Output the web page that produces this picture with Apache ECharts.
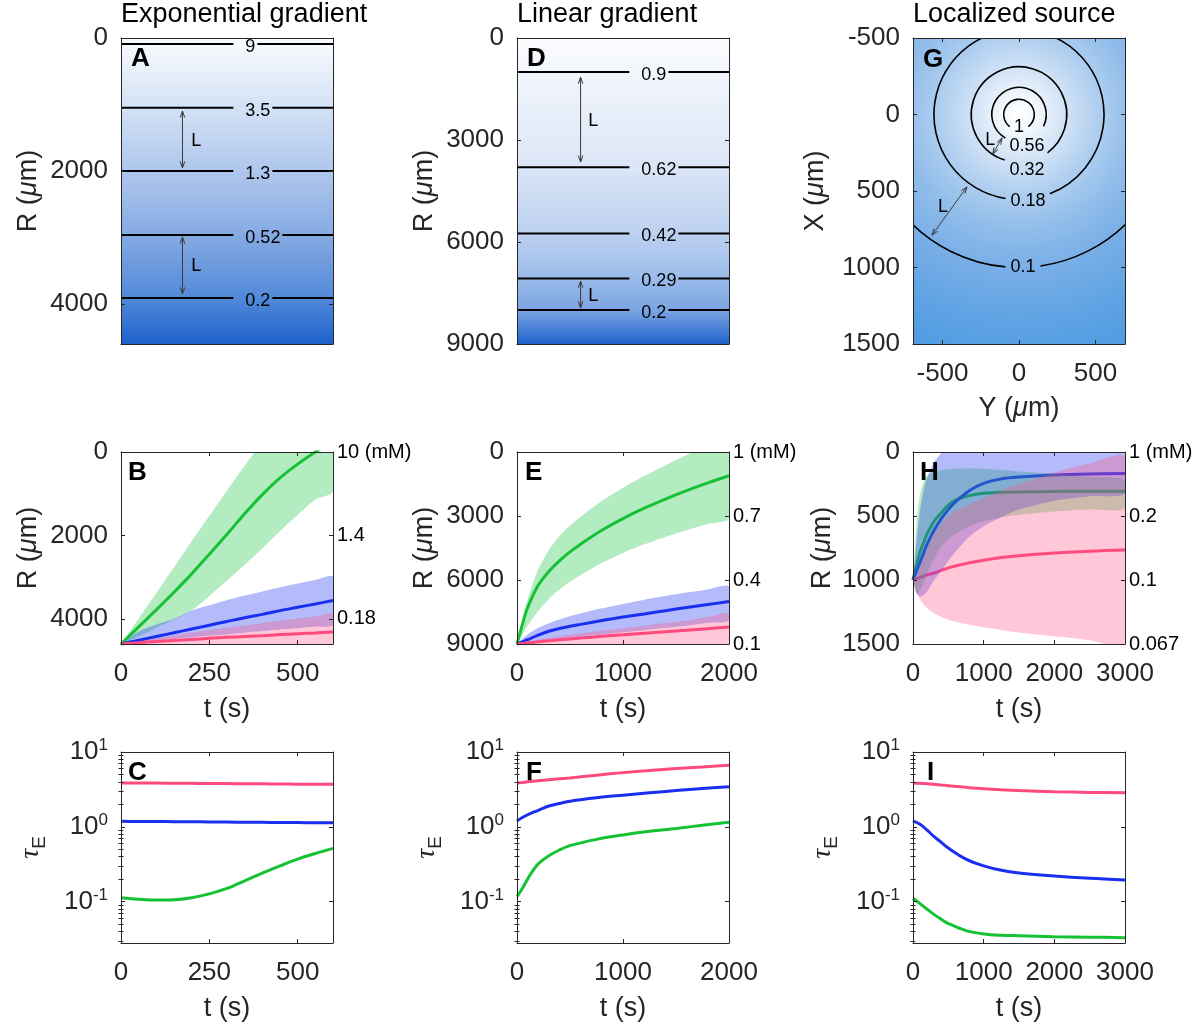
<!DOCTYPE html>
<html>
<head>
<meta charset="utf-8">
<title>Gradient sensing panels</title>
<script src="https://cdn.jsdelivr.net/npm/echarts@6/dist/echarts.min.js"></script>
<style>
  html, body { margin: 0; padding: 0; background: #fff; }
  #main { width: 1204px; height: 1029px; }
</style>
</head>
<body>
<div id="main"></div>
<script>
// ---------- data ----------
// A: exponential gradient, contour levels (mM) and depth R (um)
var expLevels = [9, 3.5, 1.3, 0.52, 0.2];
var expLevelR = [90, 1050, 2000, 2960, 3910];
var expArrows = [[0.29, 1097, 0.29, 1954], [0.29, 2991, 0.29, 3848]];
var expArrowLabels = [[0.355, 1548], [0.355, 3427]];

// D: linear gradient
var linLevels = [0.9, 0.62, 0.42, 0.29, 0.2];
var linLevelR = [1000, 3800, 5750, 7070, 8000];
var linArrows = [[0.3, 1150, 0.3, 3650], [0.3, 7150, 0.3, 7940]];
var linArrowLabels = [[0.36, 2440], [0.36, 7590]];

// G: localized source, contour radius (um) around the source
var srcLevels = [1, 0.56, 0.32, 0.18, 0.1];
var srcRadius = [100, 178, 312, 556, 1000];
var srcArrows = [[-111, 153, -172, 259], [-340, 473, -569, 789]]; // [Y1, X1, Y2, X2]
var srcArrowLabels = [[-188, 168], [-497, 608]];

// tick values / labels
var tickR_A = [0, 2000, 4000];
var tickR_D = [0, 3000, 6000, 9000];
var tickR_H = [0, 500, 1000, 1500];
var tickX_G = [-500, 0, 500, 1000, 1500];
var tickY_G = [-500, 0, 500];
var tickT_B = [0, 250, 500];
var tickT_E = [0, 1000, 2000];
var tickT_H = [0, 1000, 2000, 3000];
var concB = ['10 (mM)', '1.4', '0.18'];
var concE = ['1 (mM)', '0.7', '0.4', '0.1'];
var concH = ['1 (mM)', '0.2', '0.1', '0.067'];
var tauTicks = [0.1, 1, 10];
var tauMinor = [0.03, 0.04, 0.05, 0.06, 0.07, 0.08, 0.09, 0.2, 0.3, 0.4, 0.5, 0.6, 0.7, 0.8, 0.9, 2, 3, 4, 5, 6, 7, 8, 9];

// B: R(t) in exponential gradient
var tB = [0, 50, 100, 150, 200, 250, 300, 350, 400, 450, 500, 550, 600];
var greenB = [4600, 4190, 3780, 3360, 2920, 2450, 1970, 1480, 1020, 620, 290, 0, -250];
var greenBLo = [4600, 3990, 3380, 2760, 2140, 1530, 920, 330, -250, -800, -1350, -1900, -2400];
var greenBHi = [4600, 4420, 4210, 4020, 3800, 3450, 3080, 2700, 2310, 1900, 1510, 1140, 940];
var blueB = [4600, 4510, 4420, 4330, 4240, 4150, 4060, 3970, 3890, 3800, 3720, 3640, 3560];
var blueBLo = [4600, 4300, 4130, 4000, 3800, 3670, 3550, 3440, 3340, 3240, 3150, 3065, 2985];
var blueBHi = [4600, 4560, 4520, 4480, 4440, 4400, 4370, 4330, 4290, 4250, 4220, 4180, 4140];
var pinkB = [4600, 4570, 4540, 4515, 4490, 4465, 4440, 4420, 4400, 4375, 4355, 4335, 4314];
var pinkBLo = [4600, 4530, 4460, 4395, 4330, 4270, 4210, 4155, 4100, 4045, 3990, 3940, 3885];
var pinkBHi = [4600, 4610, 4620, 4630, 4640, 4650, 4660, 4670, 4680, 4690, 4700, 4710, 4720];

// E: R(t) in linear gradient
var tE = [0, 50, 100, 200, 300, 400, 500, 600, 800, 1000, 1200, 1400, 1600, 1800, 2000];
var greenE = [9000, 8100, 7300, 6250, 5600, 5100, 4680, 4320, 3670, 3120, 2635, 2205, 1813, 1450, 1113];
var greenELo = [9000, 7800, 6900, 5500, 4600, 3950, 3450, 3030, 2300, 1680, 1130, 620, 140, -320, -760];
var greenEHi = [9000, 8580, 8150, 7450, 6900, 6450, 6080, 5760, 5200, 4730, 4330, 3980, 3670, 3380, 3110];
var blueE = [9000, 8900, 8800, 8580, 8400, 8270, 8170, 8080, 7900, 7730, 7590, 7440, 7290, 7150, 7010];
var blueELo = [9000, 8750, 8550, 8250, 8030, 7850, 7700, 7570, 7330, 7120, 6920, 6750, 6590, 6440, 6306];
var blueEHi = [9000, 8975, 8950, 8890, 8830, 8770, 8710, 8660, 8560, 8450, 8350, 8240, 8140, 8000, 7870];
var pinkE = [9000, 8975, 8950, 8900, 8850, 8800, 8760, 8720, 8640, 8570, 8500, 8430, 8360, 8280, 8205];
var pinkELo = [9000, 8950, 8900, 8800, 8720, 8640, 8570, 8500, 8380, 8260, 8140, 8020, 7900, 7750, 7600];
var pinkEHi = [9000, 9015, 9030, 9060, 9090, 9120, 9150, 9180, 9240, 9300, 9360, 9420, 9480, 9540, 9600];

// H: R(t) around a localized source
var tH = [0, 50, 100, 150, 200, 300, 400, 500, 600, 800, 1000, 1250, 1500, 2000, 2500, 3000];
var greenH = [1000, 880, 780, 710, 640, 540, 475, 415, 375, 340, 322, 315, 312, 308, 307, 306];
var greenHLo = [1000, 550, 330, 230, 185, 155, 143, 135, 130, 126, 130, 140, 152, 170, 195, 220];
var greenHHi = [1000, 1110, 1080, 1020, 950, 830, 740, 680, 640, 580, 540, 510, 490, 465, 450, 441];
var blueH = [1000, 930, 860, 790, 720, 610, 520, 450, 390, 300, 245, 210, 195, 180, 172, 168];
var blueHLo = [1000, 700, 450, 300, 200, 80, 10, -40, -70, -100, -110, -115, -120, -120, -120, -120];
var blueHHi = [1000, 1100, 1130, 1120, 1090, 1000, 930, 850, 780, 660, 580, 510, 450, 380, 345, 320];
var pinkH = [1000, 990, 980, 970, 960, 945, 925, 905, 890, 865, 845, 825, 810, 790, 775, 766];
var pinkHLo = [1000, 960, 900, 830, 760, 640, 560, 500, 460, 410, 360, 300, 250, 160, 90, 40];
var pinkHHi = [1000, 1100, 1150, 1190, 1220, 1260, 1290, 1310, 1325, 1350, 1370, 1390, 1410, 1440, 1470, 1510];

// C, F, I: tau_E(t)
var tC = [0, 50, 100, 150, 200, 250, 300, 350, 400, 450, 500, 550, 600];
var greenC = [0.113, 0.108, 0.105, 0.106, 0.113, 0.127, 0.15, 0.19, 0.24, 0.3, 0.37, 0.44, 0.515];
var blueC = [1.19, 1.18, 1.18, 1.17, 1.17, 1.16, 1.16, 1.15, 1.15, 1.14, 1.14, 1.13, 1.13];
var pinkC = [3.86, 3.85, 3.84, 3.82, 3.81, 3.79, 3.78, 3.76, 3.75, 3.73, 3.72, 3.71, 3.7];

var tF = [0, 50, 100, 150, 200, 300, 400, 500, 750, 1000, 1250, 1500, 1750, 2000];
var greenF = [0.117, 0.15, 0.2, 0.26, 0.32, 0.41, 0.49, 0.56, 0.68, 0.78, 0.87, 0.95, 1.05, 1.15];
var blueF = [1.2, 1.33, 1.45, 1.56, 1.66, 1.9, 2.05, 2.2, 2.45, 2.65, 2.85, 3.05, 3.25, 3.42];
var pinkF = [3.86, 3.92, 3.99, 4.06, 4.13, 4.26, 4.38, 4.5, 4.9, 5.3, 5.65, 6.0, 6.3, 6.65];

var tI = [0, 100, 200, 300, 400, 500, 750, 1000, 1250, 1500, 2000, 2500, 3000];
var greenI = [0.111, 0.094, 0.079, 0.067, 0.058, 0.051, 0.041, 0.037, 0.0355, 0.035, 0.034, 0.0335, 0.033];
var blueI = [1.2, 1.08, 0.9, 0.74, 0.62, 0.52, 0.37, 0.3, 0.262, 0.242, 0.22, 0.205, 0.195];
var pinkI = [3.86, 3.82, 3.76, 3.7, 3.62, 3.55, 3.37, 3.22, 3.12, 3.05, 2.95, 2.88, 2.85];

var titles = ['Exponential gradient', 'Linear gradient', 'Localized source'];
var panelLetters = ['A', 'B', 'C', 'D', 'E', 'F', 'G', 'H', 'I'];

// ---------- style ----------
var INK = '#262626';
var FONT = '"Liberation Sans", Arial, Helvetica, sans-serif';
var GREEN = '#14c234', BLUE = '#1a2ef0', PINK = '#ff4a7e';
var GREEN_BAND = 'rgba(40,200,80,0.35)', BLUE_BAND = 'rgba(40,60,240,0.35)', PINK_BAND = 'rgba(255,80,130,0.32)';

var measureCtx = document.createElement('canvas').getContext('2d');
function textWidth(s, size) {
  measureCtx.font = size + 'px ' + FONT;
  return measureCtx.measureText(s).width;
}

var grid = [], xAxis = [], yAxis = [], series = [];

function fmtNum(v) { return String(v); }
function fmtPow(v) { return '10{sup|' + Math.round(Math.log10(v)) + '}'; }

var nameStyle = {
  fontSize: 27, color: INK, fontFamily: FONT,
  rich: { mu: { fontSize: 27, fontStyle: 'italic', color: INK, fontFamily: FONT } }
};
var tauStyle = {
  fontSize: 28, color: INK, fontFamily: FONT, lineHeight: 36,
  rich: {
    t: { fontSize: 28, fontStyle: 'italic', fontFamily: '"Liberation Serif", serif', color: INK, lineHeight: 36 },
    s: { fontSize: 19, fontFamily: FONT, color: INK, lineHeight: 17, verticalAlign: 'bottom' }
  }
};

function tickOpt(values, len) {
  if (!values) return { show: false };
  return { show: true, inside: true, length: len || 4, customValues: values, lineStyle: { color: INK, width: 1 } };
}
function lineOpt(show) {
  return { show: show, onZero: false, lineStyle: { color: INK, width: 1 } };
}

function addPanel(p) {
  var gi = grid.length;
  grid.push({ left: p.left, top: p.top, width: 212, height: p.height });
  var xi = xAxis.length;
  xAxis.push({
    gridIndex: gi, type: 'value', position: 'bottom', min: p.x[0], max: p.x[1], z: 10,
    name: p.xName || '', nameLocation: 'middle', nameGap: p.xNameGap || 52, nameTextStyle: nameStyle,
    axisLine: lineOpt(true), axisTick: tickOpt(p.xTicks),
    axisLabel: p.xTicks ? { customValues: p.xTicks, formatter: fmtNum, margin: 17, fontSize: 26, color: INK, fontFamily: FONT } : { show: false },
    splitLine: { show: false }
  });
  xAxis.push({
    gridIndex: gi, type: 'value', position: 'top', min: p.x[0], max: p.x[1], z: 10,
    axisLine: lineOpt(true), axisTick: tickOpt(p.xTicks), axisLabel: { show: false }, splitLine: { show: false }
  });
  var yi = yAxis.length;
  var yType = p.log ? { type: 'log', logBase: 10 } : { type: 'value', inverse: true };
  yAxis.push(Object.assign({
    gridIndex: gi, position: 'left', min: p.y[0], max: p.y[1], z: 10,
    name: p.yName, nameLocation: 'middle', nameRotate: 90, nameGap: p.yNameGap,
    nameTextStyle: p.log ? tauStyle : nameStyle,
    axisLine: lineOpt(true), axisTick: tickOpt(p.yTicks),
    axisLabel: {
      customValues: p.yTicks, formatter: p.log ? fmtPow : fmtNum, margin: 13,
      fontSize: 26, color: INK, fontFamily: FONT, lineHeight: 30,
      rich: { sup: { fontSize: 17, lineHeight: 17, verticalAlign: 'top', color: INK, fontFamily: FONT } }
    },
    splitLine: { show: false }
  }, yType));
  yAxis.push(Object.assign({
    gridIndex: gi, position: 'right', min: p.y[0], max: p.y[1], z: 10,
    axisLine: lineOpt(true), axisTick: tickOpt(p.yTicks),
    axisLabel: p.conc ? {
      customValues: p.yTicks, margin: 4, fontSize: 20, color: '#000', fontFamily: FONT,
      formatter: function (v) { return p.conc[p.yTicks.indexOf(v)]; }
    } : { show: false },
    splitLine: { show: false }
  }, yType));
  if (p.log) {
    ['left', 'right'].forEach(function (pos) {
      yAxis.push({
        gridIndex: gi, type: 'log', logBase: 10, position: pos, min: p.y[0], max: p.y[1], z: 10,
        axisLine: { show: false }, axisTick: tickOpt(tauMinor, 2.5), axisLabel: { show: false }, splitLine: { show: false }
      });
    });
  }
  return { xi: xi, yi: yi };
}

function lineSeries(ax, t, v, color, z) {
  return {
    type: 'line', xAxisIndex: ax.xi, yAxisIndex: ax.yi, z: z || 3, silent: true,
    data: t.map(function (x, i) { return [x, v[i]]; }),
    showSymbol: false, symbol: 'none', smooth: 0.35,
    lineStyle: { color: color, width: 3 }
  };
}

function bandSeries(ax, t, lo, hi, fill, z) {
  return {
    type: 'custom', xAxisIndex: ax.xi, yAxisIndex: ax.yi, clip: true, silent: true, z: z || 2,
    data: t.map(function (x, i) { return [x, lo[i], hi[i]]; }),
    renderItem: function (params, api) {
      if (params.dataIndex !== 0) return null;
      var pts = [], i;
      for (i = 0; i < t.length; i++) pts.push(api.coord([t[i], lo[i]]));
      for (i = t.length - 1; i >= 0; i--) pts.push(api.coord([t[i], hi[i]]));
      return { type: 'polygon', shape: { points: pts, smooth: 0.25 }, style: { fill: fill } };
    }
  };
}

function backgroundSeries(ax, fillFn) {
  return {
    type: 'custom', xAxisIndex: ax.xi, yAxisIndex: ax.yi, z: 1, silent: true, data: [[0, 0]],
    renderItem: function (params, api) {
      var cs = params.coordSys;
      return { type: 'rect', shape: { x: cs.x, y: cs.y, width: cs.width, height: cs.height }, style: { fill: fillFn(api) } };
    }
  };
}

function levelSeries(ax, levels, levelR) {
  return {
    type: 'custom', xAxisIndex: ax.xi, yAxisIndex: ax.yi, z: 4, silent: true,
    data: levelR.map(function (r) { return [0, r]; }),
    renderItem: function (params, api) {
      var r = api.value(1);
      var p0 = api.coord([0, r]), p1 = api.coord([1, r]);
      var label = String(levels[params.dataIndex]);
      var gx = p0[0] + 0.53 * (p1[0] - p0[0]);
      var w = textWidth(label, 18);
      var ls = { stroke: '#000', lineWidth: 2 };
      return {
        type: 'group', children: [
          { type: 'line', shape: { x1: p0[0], y1: p0[1], x2: gx, y2: p0[1] }, style: ls },
          { type: 'line', shape: { x1: gx + 12 + w + 2, y1: p0[1], x2: p1[0], y2: p0[1] }, style: ls },
          { type: 'text', style: { text: label, x: gx + 12, y: p0[1] + 3, font: '18px ' + FONT, fill: '#000', align: 'left', verticalAlign: 'middle' } }
        ]
      };
    }
  };
}

function arrowParts(p, q, color) {
  var dx = q[0] - p[0], dy = q[1] - p[1], len = Math.sqrt(dx * dx + dy * dy);
  var ux = dx / len, uy = dy / len;
  function head(tip, sx, sy) {
    var a = 0.33, L = 7, c = Math.cos(a), s = Math.sin(a);
    return {
      type: 'polyline',
      shape: { points: [[tip[0] + L * (sx * c - sy * s), tip[1] + L * (sx * s + sy * c)], tip,
                        [tip[0] + L * (sx * c + sy * s), tip[1] + L * (-sx * s + sy * c)]] },
      style: { stroke: color, lineWidth: 1, fill: null }
    };
  }
  return [
    { type: 'line', shape: { x1: p[0], y1: p[1], x2: q[0], y2: q[1] }, style: { stroke: color, lineWidth: 1 } },
    head(p, ux, uy), head(q, -ux, -uy)
  ];
}

function arrowSeries(ax, arrows, labels) {
  return {
    type: 'custom', xAxisIndex: ax.xi, yAxisIndex: ax.yi, z: 5, silent: true,
    data: arrows,
    renderItem: function (params, api) {
      var a = arrows[params.dataIndex];
      var p = api.coord([a[0], a[1]]), q = api.coord([a[2], a[3]]);
      var lab = api.coord(labels[params.dataIndex]);
      return {
        type: 'group',
        children: arrowParts(p, q, '#3a3a3a').concat([{
          type: 'text', style: { text: 'L', x: lab[0], y: lab[1], font: '18px ' + FONT, fill: '#000', align: 'center', verticalAlign: 'middle' }
        }])
      };
    }
  };
}

// ---------- panels ----------
var rName = 'R ({mu|μ}m)';
var pA = addPanel({ left: 121, top: 38, height: 306, x: [0, 1], y: [0, 4600], yTicks: tickR_A, yName: rName, yNameGap: 79 });
var pB = addPanel({ left: 121, top: 452, height: 192, x: [0, 600], xTicks: tickT_B, xName: 't (s)', y: [0, 4600], yTicks: tickR_A, yName: rName, yNameGap: 79, conc: concB });
var pC = addPanel({ left: 121, top: 752, height: 191, x: [0, 600], xTicks: tickT_B, xName: 't (s)', y: [0.028, 10], log: true, yTicks: tauTicks, yName: '{t|τ}{s|E}', yNameGap: 72 });
var pD = addPanel({ left: 517, top: 38, height: 306, x: [0, 1], y: [0, 9000], yTicks: tickR_D, yName: rName, yNameGap: 79 });
var pE = addPanel({ left: 517, top: 452, height: 192, x: [0, 2000], xTicks: tickT_E, xName: 't (s)', y: [0, 9000], yTicks: tickR_D, yName: rName, yNameGap: 79, conc: concE });
var pF = addPanel({ left: 517, top: 752, height: 191, x: [0, 2000], xTicks: tickT_E, xName: 't (s)', y: [0.028, 10], log: true, yTicks: tauTicks, yName: '{t|τ}{s|E}', yNameGap: 72 });
var pG = addPanel({ left: 913, top: 38, height: 306, x: [-693, 693], xTicks: tickY_G, xName: 'Y ({mu|μ}m)', xNameGap: 51, y: [-500, 1500], yTicks: tickX_G, yName: 'X ({mu|μ}m)', yNameGap: 84 });
var pH = addPanel({ left: 913, top: 452, height: 192, x: [0, 3000], xTicks: tickT_H, xName: 't (s)', y: [0, 1500], yTicks: tickR_H, yName: rName, yNameGap: 77, conc: concH });
var pI = addPanel({ left: 913, top: 752, height: 191, x: [0, 3000], xTicks: tickT_H, xName: 't (s)', y: [0.028, 10], log: true, yTicks: tauTicks, yName: '{t|τ}{s|E}', yNameGap: 72 });

// A
series.push(backgroundSeries(pA, function () {
  return new echarts.graphic.LinearGradient(0, 0, 0, 1, [
    { offset: 0, color: '#f9fbfe' }, { offset: 0.1, color: '#e9f0fa' }, { offset: 0.23, color: '#d2e1f5' },
    { offset: 0.44, color: '#aec6ed' }, { offset: 0.64, color: '#86abe3' }, { offset: 0.85, color: '#5289d9' },
    { offset: 1, color: '#1d62cc' }]);
}));
series.push(levelSeries(pA, expLevels, expLevelR));
series.push(arrowSeries(pA, expArrows, expArrowLabels));

// D
series.push(backgroundSeries(pD, function () {
  return new echarts.graphic.LinearGradient(0, 0, 0, 1, [
    { offset: 0, color: '#fbfcfe' }, { offset: 0.1, color: '#f3f6fc' }, { offset: 0.43, color: '#dae5f6' },
    { offset: 0.64, color: '#bcd1f0' }, { offset: 0.78, color: '#9cbcea' }, { offset: 0.89, color: '#7ba4e2' },
    { offset: 1, color: '#2063cd' }]);
}));
series.push(levelSeries(pD, linLevels, linLevelR));
series.push(arrowSeries(pD, linArrows, linArrowLabels));

// G
var srcLabelDx = [0, 8, 8, 9, 4];
var srcLabelDy = [-3, 6, 8, 2, 0];
series.push(backgroundSeries(pG, function (api) {
  var c = api.coord([0, 0]);
  return new echarts.graphic.RadialGradient(c[0], c[1], 260, [
    { offset: 0, color: '#ffffff' }, { offset: 0.06, color: '#f5f9fd' }, { offset: 0.15, color: '#d9e7f7' },
    { offset: 0.3, color: '#b0cff0' }, { offset: 0.45, color: '#90bcea' }, { offset: 0.6, color: '#78aee7' },
    { offset: 0.8, color: '#5fa3e4' }, { offset: 1, color: '#4c9ae1' }], true);
}));
series.push({
  type: 'custom', xAxisIndex: pG.xi, yAxisIndex: pG.yi, z: 4, silent: true, clip: true,
  data: srcRadius.map(function (r) { return [0, 0, r]; }),
  renderItem: function (params, api) {
    var i = params.dataIndex, c = api.coord([0, 0]);
    var r = Math.abs(api.size([api.value(2), 0])[0]);
    var label = String(srcLevels[i]), w = textWidth(label, 18);
    var dx = srcLabelDx[i], ly = Math.sqrt(r * r - dx * dx);
    var theta = Math.atan2(ly, dx), half = (w / 2 + 5) / r;
    return {
      type: 'group', children: [
        { type: 'arc', shape: { cx: c[0], cy: c[1], r: r, startAngle: theta + half, endAngle: theta - half + 2 * Math.PI, clockwise: true },
          style: { stroke: '#000', lineWidth: 1.6, fill: null } },
        { type: 'text', style: { text: label, x: c[0] + dx, y: c[1] + ly + srcLabelDy[i], font: '18px ' + FONT, fill: '#000', align: 'center', verticalAlign: 'middle' } }
      ]
    };
  }
});
series.push(arrowSeries(pG, srcArrows, srcArrowLabels));

// B
series.push(bandSeries(pB, tB, greenBLo, greenBHi, GREEN_BAND));
series.push(bandSeries(pB, tB, blueBLo, blueBHi, BLUE_BAND));
series.push(bandSeries(pB, tB, pinkBLo, pinkBHi, PINK_BAND));
series.push(lineSeries(pB, tB, greenB, GREEN));
series.push(lineSeries(pB, tB, blueB, BLUE));
series.push(lineSeries(pB, tB, pinkB, PINK));

// E
series.push(bandSeries(pE, tE, greenELo, greenEHi, GREEN_BAND));
series.push(bandSeries(pE, tE, blueELo, blueEHi, BLUE_BAND));
series.push(bandSeries(pE, tE, pinkELo, pinkEHi, PINK_BAND));
series.push(lineSeries(pE, tE, greenE, GREEN));
series.push(lineSeries(pE, tE, blueE, BLUE));
series.push(lineSeries(pE, tE, pinkE, PINK));

// H (bands drawn over the lines, as in the figure)
series.push(lineSeries(pH, tH, greenH, GREEN, 3));
series.push(lineSeries(pH, tH, blueH, BLUE, 3));
series.push(lineSeries(pH, tH, pinkH, PINK, 3));
series.push(bandSeries(pH, tH, greenHLo, greenHHi, GREEN_BAND, 4));
series.push(bandSeries(pH, tH, blueHLo, blueHHi, BLUE_BAND, 4));
series.push(bandSeries(pH, tH, pinkHLo, pinkHHi, PINK_BAND, 4));

// C, F, I
[[pC, tC, greenC, blueC, pinkC], [pF, tF, greenF, blueF, pinkF], [pI, tI, greenI, blueI, pinkI]].forEach(function (s) {
  series.push(lineSeries(s[0], s[1], s[4], PINK));
  series.push(lineSeries(s[0], s[1], s[3], BLUE));
  series.push(lineSeries(s[0], s[1], s[2], GREEN));
});

// ---------- titles and panel letters ----------
var titleX = [121, 517, 913];
var letterPos = [[131, 59], [128, 473], [128, 773], [527, 59], [525, 473], [526, 773], [923, 60], [920, 473], [927, 773]];
var graphics = [];
titles.forEach(function (t, i) {
  graphics.push({ type: 'text', z: 100, x: titleX[i], y: 15,
    style: { text: t, font: '27px ' + FONT, fill: '#000', align: 'left', verticalAlign: 'middle' } });
});
panelLetters.forEach(function (t, i) {
  graphics.push({ type: 'text', z: 100, x: letterPos[i][0], y: letterPos[i][1],
    style: { text: t, font: 'bold 26px ' + FONT, fill: '#000', align: 'left', verticalAlign: 'middle' } });
});

var chart = echarts.init(document.getElementById('main'), null, { renderer: 'canvas', width: 1204, height: 1029 });
chart.setOption({
  backgroundColor: '#ffffff',
  animation: false,
  grid: grid,
  xAxis: xAxis,
  yAxis: yAxis,
  series: series,
  graphic: { elements: graphics }
});
</script>
</body>
</html>
